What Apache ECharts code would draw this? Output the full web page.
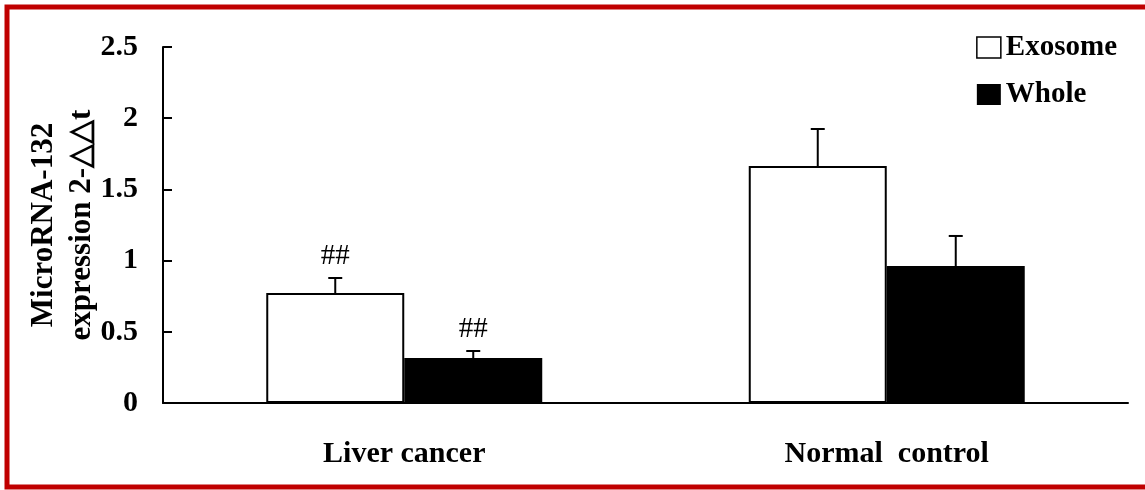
<!DOCTYPE html>
<html>
<head>
<meta charset="utf-8">
<script src="https://cdn.jsdelivr.net/npm/echarts@6/dist/echarts.min.js"></script>
<style>
html,body{margin:0;padding:0;background:#fff;}
#chart{width:1145px;height:490px;}
</style>
</head>
<body>
<div id="chart"></div>
<script>
const categories = ['Liver cancer', 'Normal  control'];
const exosomeValues = [0.772, 1.664];
const exosomeErrors = [0.106, 0.260];
const wholeValues = [0.316, 0.962];
const wholeErrors = [0.049, 0.211];
const exosomeMarks = ['##', ''];
const wholeMarks = ['##', ''];
const yTicks = [0, 0.5, 1, 1.5, 2, 2.5];

const BAR_PCT = 0.286;
const FONT = '"Liberation Serif", "Times New Roman", serif';

function errorSeries(name, values, errors, marks, side) {
  return {
    type: 'custom',
    name: name + ' err',
    z: 5,
    silent: true,
    data: values.map((v, i) => [i, v, errors[i], marks[i]]),
    renderItem: function (params, api) {
      const band = api.size([1, 0])[0];
      const off = side * band * BAR_PCT / 2;
      const base = api.coord([api.value(0), api.value(1)]);
      const top = api.coord([api.value(0), api.value(1) + api.value(2)]);
      const x = base[0] + off;
      const cap = 7;
      const children = [
        { type: 'line', shape: { x1: x, y1: base[1], x2: x, y2: top[1] },
          style: { stroke: '#000', lineWidth: 2 } },
        { type: 'line', shape: { x1: x - cap, y1: top[1], x2: x + cap, y2: top[1] },
          style: { stroke: '#000', lineWidth: 2 } }
      ];
      const mark = marks[params.dataIndex];
      if (mark) {
        children.push({ type: 'text', style: { text: mark, x: x, y: top[1] - 7,
          align: 'center', verticalAlign: 'bottom', fill: '#000',
          font: 'normal 29px ' + FONT } });
      }
      return { type: 'group', children: children };
    }
  };
}

const chart = echarts.init(document.getElementById('chart'));
chart.setOption({
  animation: false,
  backgroundColor: '#fff',
  grid: { left: 163, right: 17, top: 47, bottom: 87, outerBoundsMode: 'none', containLabel: false },
  legend: {
    right: 23, top: 28, orient: 'vertical',
    itemWidth: 24, itemHeight: 21, itemGap: 18,
    textStyle: { fontFamily: FONT, fontWeight: 'bold', fontSize: 29, color: '#000', padding: [0, 0, 0, 0] },
    data: [
      { name: 'Exosome', icon: 'rect', itemStyle: { color: '#fff', borderColor: '#000', borderWidth: 1.5 } },
      { name: 'Whole', icon: 'rect', itemStyle: { color: '#000', borderColor: '#000', borderWidth: 0 } }
    ]
  },
  xAxis: {
    type: 'category', data: categories, boundaryGap: true,
    axisLine: { lineStyle: { color: '#000', width: 2 } },
    axisTick: { inside: true, length: 8, lineStyle: { color: '#000', width: 2 } },
    axisLabel: { margin: 36, fontFamily: FONT, fontWeight: 'bold', fontSize: 30, color: '#000' }
  },
  yAxis: {
    type: 'value', min: 0, max: 2.5, interval: 0.5,
    name: 'MicroRNA-132\nexpression 2-△△t',
    nameLocation: 'middle', nameGap: 62, nameRotate: 90, nameMoveOverlap: false,
    nameTextStyle: { fontFamily: FONT, fontWeight: 'bold', fontSize: 31, color: '#000', lineHeight: 38 },
    axisLine: { show: true, lineStyle: { color: '#000', width: 2 } },
    axisTick: { show: true, inside: true, length: 9, lineStyle: { color: '#000', width: 2 } },
    splitLine: { show: false },
    axisLabel: { margin: 25, fontFamily: FONT, fontWeight: 'bold', fontSize: 30, color: '#000',
      formatter: v => (yTicks.indexOf(v) >= 0 ? String(v) : '') }
  },
  series: [
    { type: 'bar', name: 'Exosome', data: exosomeValues, barWidth: (BAR_PCT * 100) + '%', barGap: '0%',
      itemStyle: { color: '#fff', borderColor: '#000', borderWidth: 2 } },
    { type: 'bar', name: 'Whole', data: wholeValues, barWidth: (BAR_PCT * 100) + '%', barGap: '0%',
      itemStyle: { color: '#000', borderColor: '#000', borderWidth: 0 } },
    errorSeries('Exosome', exosomeValues, exosomeErrors, exosomeMarks, -1),
    errorSeries('Whole', wholeValues, wholeErrors, wholeMarks, 1)
  ],
  graphic: [
    { type: 'polyline', silent: true, z: 100,
      shape: { points: [[1150, 7], [7, 7], [7, 487], [1150, 487]] },
      style: { stroke: '#c00000', lineWidth: 5, fill: null } }
  ]
});
</script>
</body>
</html>
